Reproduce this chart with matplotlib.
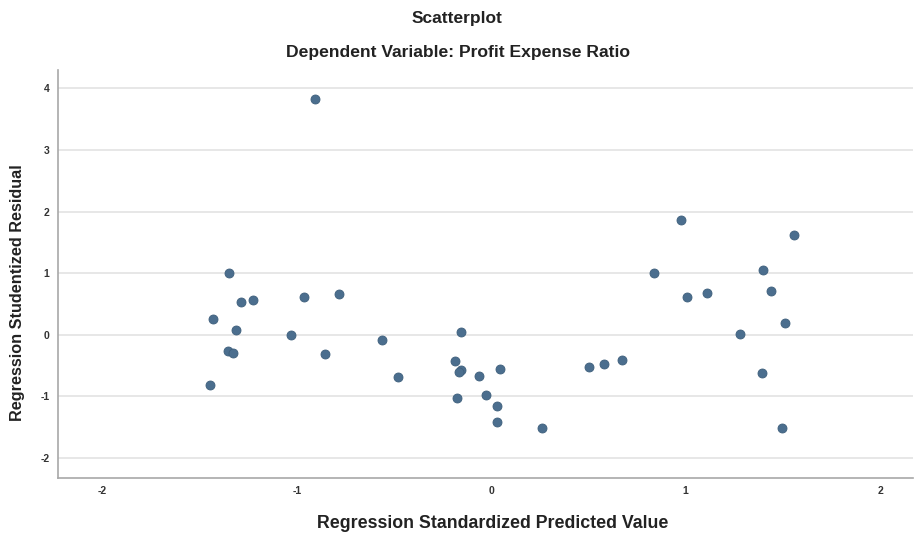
import matplotlib
matplotlib.use("Agg")
import matplotlib.pyplot as plt
import numpy as np

# values
pred = [-0.907, 0.974, 1.557, -1.350, 0.835, 1.397, -1.289, -1.227, -0.964, -0.784,
        1.005, 1.108, 1.438, -1.433, -1.314, -1.031, -0.155, 1.278, 1.510, -1.356,
        -1.330, -0.856, -0.562, -0.479, -0.186, -0.155, -0.165, -0.062, 0.046, 0.505,
        0.582, 0.670, -1.448, -0.175, -0.026, 0.031, 0.031, 0.263, 1.392, 1.495]
resid = [3.83, 1.87, 1.62, 1.01, 1.01, 1.06, 0.54, 0.57, 0.62, 0.67,
         0.62, 0.68, 0.71, 0.26, 0.08, 0.00, 0.05, 0.02, 0.19, -0.26,
         -0.29, -0.31, -0.08, -0.68, -0.42, -0.57, -0.60, -0.67, -0.55, -0.52,
         -0.47, -0.41, -0.82, -1.02, -0.97, -1.15, -1.41, -1.51, -0.62, -1.51]

xticks = [-2, -1, 0, 1, 2]
yticks = [-2, -1, 0, 1, 2, 3, 4]

plt.rcParams['font.family'] = ['Liberation Sans', 'DejaVu Sans']
plt.rcParams['axes.unicode_minus'] = False

fig = plt.figure(figsize=(9.15, 5.38), dpi=100)
ax = fig.add_axes([0.063, 0.112, 0.935, 0.758])

ax.scatter(pred, resid, s=42, color='#4b6e8e', edgecolors='#3e5f7c', linewidths=0.6, zorder=3)

ax.set_xlim(-2.23, 2.17)
ax.set_ylim(-2.32, 4.3)
ax.set_xticks(xticks)
ax.set_yticks(yticks)
ax.tick_params(length=0, labelsize=7.5, colors='#333333', pad=6)
for t in ax.get_xticklabels() + ax.get_yticklabels():
    t.set_fontweight('bold')

ax.grid(axis='y', color='#e3e3e3', linewidth=1.2)
ax.set_axisbelow(True)
for s in ['top', 'right']:
    ax.spines[s].set_visible(False)
for s in ['left', 'bottom']:
    ax.spines[s].set_color('#a8a8a8')
    ax.spines[s].set_linewidth(1.2)

ax.set_xlabel('Regression Standardized Predicted Value', fontsize=12.8, fontweight='bold', color='#222222', va='center')
ax.xaxis.set_label_coords(0.508, -0.111)
ax.set_ylabel('Regression Studentized Residual', fontsize=11.7, fontweight='bold', color='#222222', va='center')
ax.yaxis.set_label_coords(-0.0475, 0.455)
fig.text(0.5, 0.966, 'Scatterplot', ha='center', va='center', fontsize=12.5, fontweight='bold', color='#222222')
fig.text(0.5, 0.903, 'Dependent Variable: Profit Expense Ratio', ha='center', va='center', fontsize=12.6, fontweight='bold', color='#222222')

fig.savefig('out.png', dpi=100, facecolor='white')
